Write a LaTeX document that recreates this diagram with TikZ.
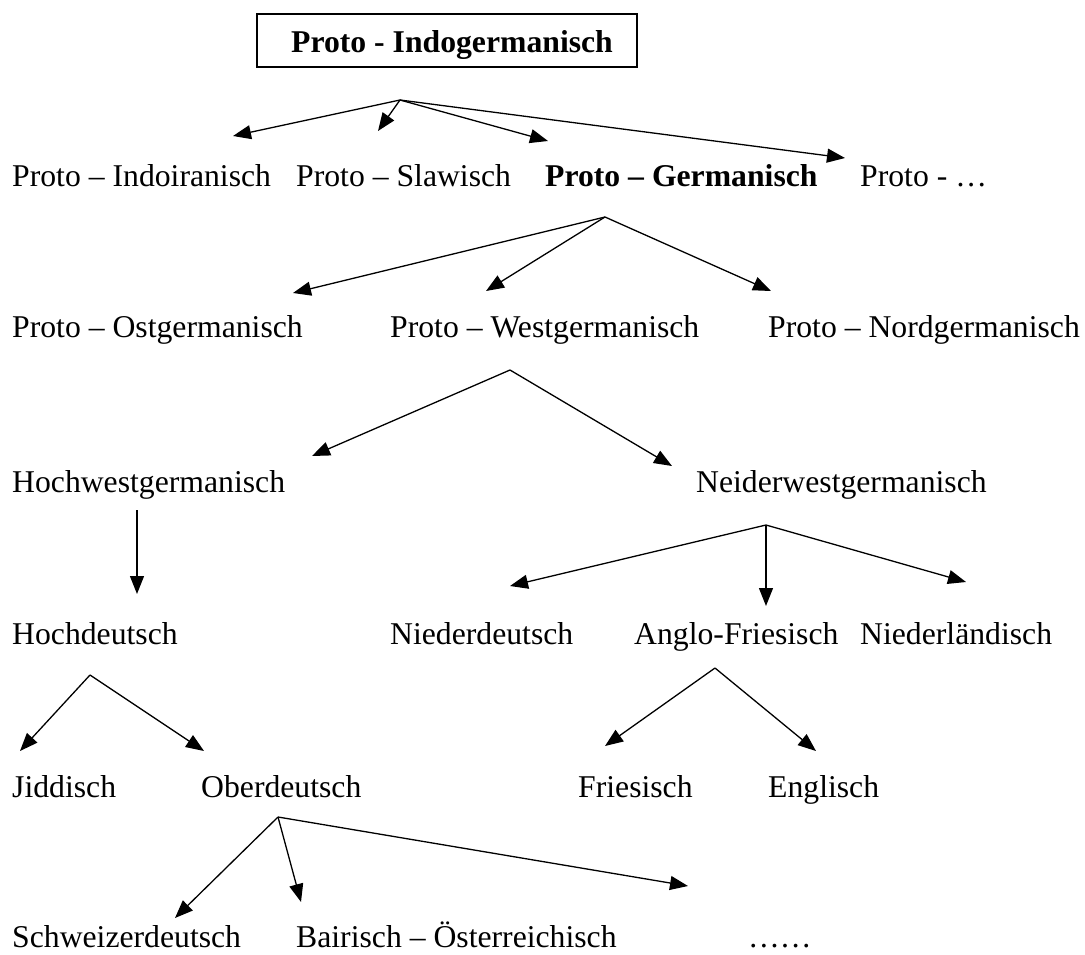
\documentclass[tikz,border=0pt]{standalone}
\usepackage{fontspec}
\setmainfont{Liberation Serif}
\usetikzlibrary{arrows.meta}
\begin{document}
\begin{tikzpicture}[x=1pt,y=-1pt,
  lang/.style={anchor=base west, inner sep=0pt, font=\fontsize{31.7}{38}\selectfont},
  arr/.style={-{Triangle[length=18pt,width=14pt]}, line width=1.3pt}]
\useasboundingbox (0,0) rectangle (1085,954);
% root
\draw[line width=1.2pt] (257,14) rectangle (637,67);
\node[lang, font=\fontsize{31.7}{38}\selectfont\bfseries] (root) at (291,52) {Proto - Indogermanisch};
\coordinate (f0) at (400,100);
\node[lang] (indoiran) at (12,186) {Proto -- Indoiranisch};
\node[lang] (slaw) at (296,186) {Proto -- Slawisch};
\node[lang, font=\fontsize{31.7}{38}\selectfont\bfseries] (germ) at (545,186) {Proto -- Germanisch};
\node[lang] (etc0) at (860,186) {Proto - \dots};
\coordinate (t01) at (233,136);
\coordinate (t02) at (378,131);
\coordinate (t03) at (548,141);
\coordinate (t04) at (845,158);
\draw[arr] (f0) -- (t01);
\draw[arr] (f0) -- (t02);
\draw[arr] (f0) -- (t03);
\draw[arr] (f0) -- (t04);
% germanisch
\coordinate (f1) at (605,217);
\node[lang] (ost) at (12,337) {Proto -- Ostgermanisch};
\node[lang] (west) at (390,337) {Proto -- Westgermanisch};
\node[lang] (nord) at (768,337) {Proto -- Nordgermanisch};
\coordinate (t11) at (293,293);
\coordinate (t12) at (486,291);
\coordinate (t13) at (771,291);
\draw[arr] (f1) -- (t11);
\draw[arr] (f1) -- (t12);
\draw[arr] (f1) -- (t13);
% westgermanisch
\coordinate (f2) at (510,370);
\node[lang] (hochw) at (12,492) {Hochwestgermanisch};
\node[lang] (niederw) at (696,492) {Neiderwestgermanisch};
\coordinate (t21) at (312,456);
\coordinate (t22) at (672,466);
\draw[arr] (f2) -- (t21);
\draw[arr] (f2) -- (t22);
% hochwestgermanisch
\coordinate (f3) at (137,510);
\node[lang] (hochd) at (12,644) {Hochdeutsch};
\coordinate (t31) at (137,594);
\draw[arr] (f3) -- (t31);
% neiderwestgermanisch
\coordinate (f4) at (766,525);
\node[lang] (niederd) at (390,644) {Niederdeutsch};
\node[lang] (anglo) at (634,644) {Anglo-Friesisch};
\node[lang] (nl) at (860,644) {Niederländisch};
\coordinate (t41) at (510,586);
\coordinate (t42) at (766,606);
\coordinate (t43) at (966,582);
\draw[arr] (f4) -- (t41);
\draw[arr] (f4) -- (t42);
\draw[arr] (f4) -- (t43);
% hochdeutsch
\coordinate (f5) at (90,675);
\node[lang] (jidd) at (12,797) {Jiddisch};
\node[lang] (oberd) at (201,797) {Oberdeutsch};
\coordinate (t51) at (20,751);
\coordinate (t52) at (204,751);
\draw[arr] (f5) -- (t51);
\draw[arr] (f5) -- (t52);
% anglo-friesisch
\coordinate (f6) at (715,668);
\node[lang] (fries) at (578,797) {Friesisch};
\node[lang] (engl) at (768,797) {Englisch};
\coordinate (t61) at (605,746);
\coordinate (t62) at (816,751);
\draw[arr] (f6) -- (t61);
\draw[arr] (f6) -- (t62);
% oberdeutsch
\coordinate (f7) at (278,817);
\node[lang] (schw) at (12,947) {Schweizerdeutsch};
\node[lang] (bair) at (296,947) {Bairisch -- Österreichisch};
\node[lang] (etc7) at (748,947) {\dots\dots};
\coordinate (t71) at (175,918);
\coordinate (t72) at (301,902);
\coordinate (t73) at (688,886);
\draw[arr] (f7) -- (t71);
\draw[arr] (f7) -- (t72);
\draw[arr] (f7) -- (t73);
\end{tikzpicture}
\end{document}
